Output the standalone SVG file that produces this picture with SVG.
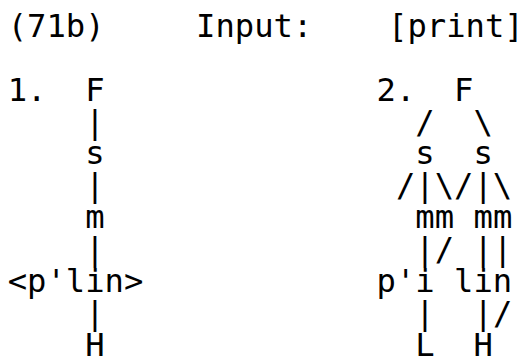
<svg xmlns="http://www.w3.org/2000/svg" width="526" height="358" viewBox="0 0 526 358">
  <style>
    text { font-family: "DejaVu Sans Mono", "Liberation Mono", monospace; font-size: 32.2px; fill: #000; }
  </style>
  <rect width="526" height="358" fill="#fff"/>
  <!-- heading line -->
  <g id="heading">
    <text x="7.7" y="36.8">(71b)</text>
    <text x="196" y="36.8">Input:</text>
    <text x="388" y="36.8">[print]</text>
  </g>
  <g id="labels">
    <text x="7.7" y="100.6">1.</text>
    <text x="376.5" y="100.6">2.</text>
  </g>
  <!-- tree 1 -->
  <g id="t1-F"><text x="85.34" y="100.6">F</text></g>
  <g id="t1-s"><text x="85.34" y="164.4">s</text></g>
  <g id="t1-m"><text x="85.34" y="228.2">m</text></g>
  <g id="t1-plin"><text x="7.7" y="292">&lt;p'lin&gt;</text></g>
  <g id="t1-H"><text x="85.34" y="355.8">H</text></g>
  <!-- tree 2 -->
  <g id="t2-F"><text x="454.1" y="100.6">F</text></g>
  <g id="t2-s1"><text x="415.3" y="164.4">s</text></g>
  <g id="t2-s2"><text x="473.5" y="164.4">s</text></g>
  <g id="t2-mm1"><text x="415.3" y="228.2">mm</text></g>
  <g id="t2-mm2"><text x="473.5" y="228.2">mm</text></g>
  <g id="t2-pi"><text x="376.5" y="292">p'i</text></g>
  <g id="t2-lin"><text x="454.1" y="292">lin</text></g>
  <g id="t2-L"><text x="415.3" y="355.8">L</text></g>
  <g id="t2-H"><text x="473.5" y="355.8">H</text></g>
  <!-- connectors drawn as text strokes -->
  <g id="connectors">
    <text x="85.34" y="132.5">|</text>
    <text x="85.34" y="196.3">|</text>
    <text x="85.34" y="260.1">|</text>
    <text x="85.34" y="323.9">|</text>
    <text x="415.3" y="132.5">/</text>
    <text x="473.5" y="132.5">\</text>
    <text x="395.9" y="196.3">/|\/|\</text>
    <text x="415.3" y="260.1">|/</text>
    <text x="473.5" y="260.1">||</text>
    <text x="415.3" y="323.9">|</text>
    <text x="473.5" y="323.9">|/</text>
  </g>
</svg>
